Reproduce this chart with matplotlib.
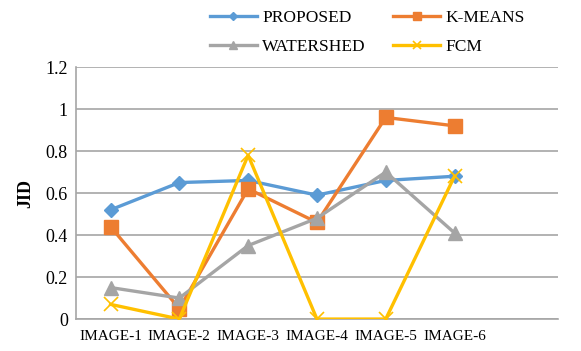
import matplotlib
matplotlib.use("Agg")
import matplotlib.pyplot as plt
import numpy as np

categories = ["IMAGE-1", "IMAGE-2", "IMAGE-3", "IMAGE-4", "IMAGE-5", "IMAGE-6", ""]
proposed = [0.52, 0.65, 0.66, 0.59, 0.66, 0.68]
kmeans = [0.44, 0.05, 0.62, 0.46, 0.96, 0.92]
watershed = [0.15, 0.10, 0.35, 0.48, 0.70, 0.41]
fcm = [0.07, 0.00, 0.78, 0.00, 0.00, 0.68]
yticks = [0, 0.2, 0.4, 0.6, 0.8, 1, 1.2]
ytick_labels = ["0", "0.2", "0.4", "0.6", "0.8", "1", "1.2"]

plt.rcParams["font.family"] = ["Liberation Serif", "DejaVu Serif"]

fig = plt.figure(figsize=(5.81, 3.51), dpi=100)
ax = fig.add_axes([0.131, 0.091, 0.829, 0.718])

x = np.arange(len(proposed))
lw = 2.4
l1, = ax.plot(x, proposed, color="#5B9BD5", lw=lw, marker="D", ms=7.5, label="PROPOSED", zorder=3)
l2, = ax.plot(x, kmeans, color="#ED7D31", lw=lw, marker="s", ms=10, label="K-MEANS", zorder=3)
l3, = ax.plot(x, watershed, color="#A5A5A5", lw=lw, marker="^", ms=10, label="WATERSHED", zorder=3)
l4, = ax.plot(x, fcm, color="#FFC000", lw=lw, marker="x", ms=10, mew=1.2, label="FCM", zorder=3)

ax.set_xlim(-0.5, len(categories) - 0.5)
ax.set_ylim(0, 1.2)
ax.set_xticks(np.arange(len(categories)))
ax.set_xticklabels(categories, fontsize=11)
ax.set_yticks(yticks)
ax.set_yticklabels(ytick_labels, fontsize=13)
ax.tick_params(length=0, pad=6)
ax.tick_params(axis="x", pad=8)
ax.grid(axis="y", color="#A6A6A6", lw=1.2)
ax.set_axisbelow(True)
for s in ["top", "right"]:
    ax.spines[s].set_visible(False)
ax.spines["left"].set_color("#A6A6A6")
ax.spines["bottom"].set_color("#A6A6A6")
ax.spines["left"].set_linewidth(1.2)
ax.spines["bottom"].set_linewidth(1.2)

ax.set_ylabel("JID", fontsize=13, fontweight="bold", labelpad=8)

# column-major fill: first column PROPOSED/WATERSHED, second K-MEANS/FCM
fig.legend([l1, l3, l2, l4], ["PROPOSED", "WATERSHED", "K-MEANS", "FCM"], ncol=2,
           loc="upper left", bbox_to_anchor=(210 / 581, 1 - 10 / 351),
           borderaxespad=0, borderpad=0,
           frameon=False, fontsize=12.5, handlelength=2.7, handletextpad=0.3,
           columnspacing=1.6, labelspacing=0.75, markerscale=0.6)

fig.savefig("out.png", dpi=100)
